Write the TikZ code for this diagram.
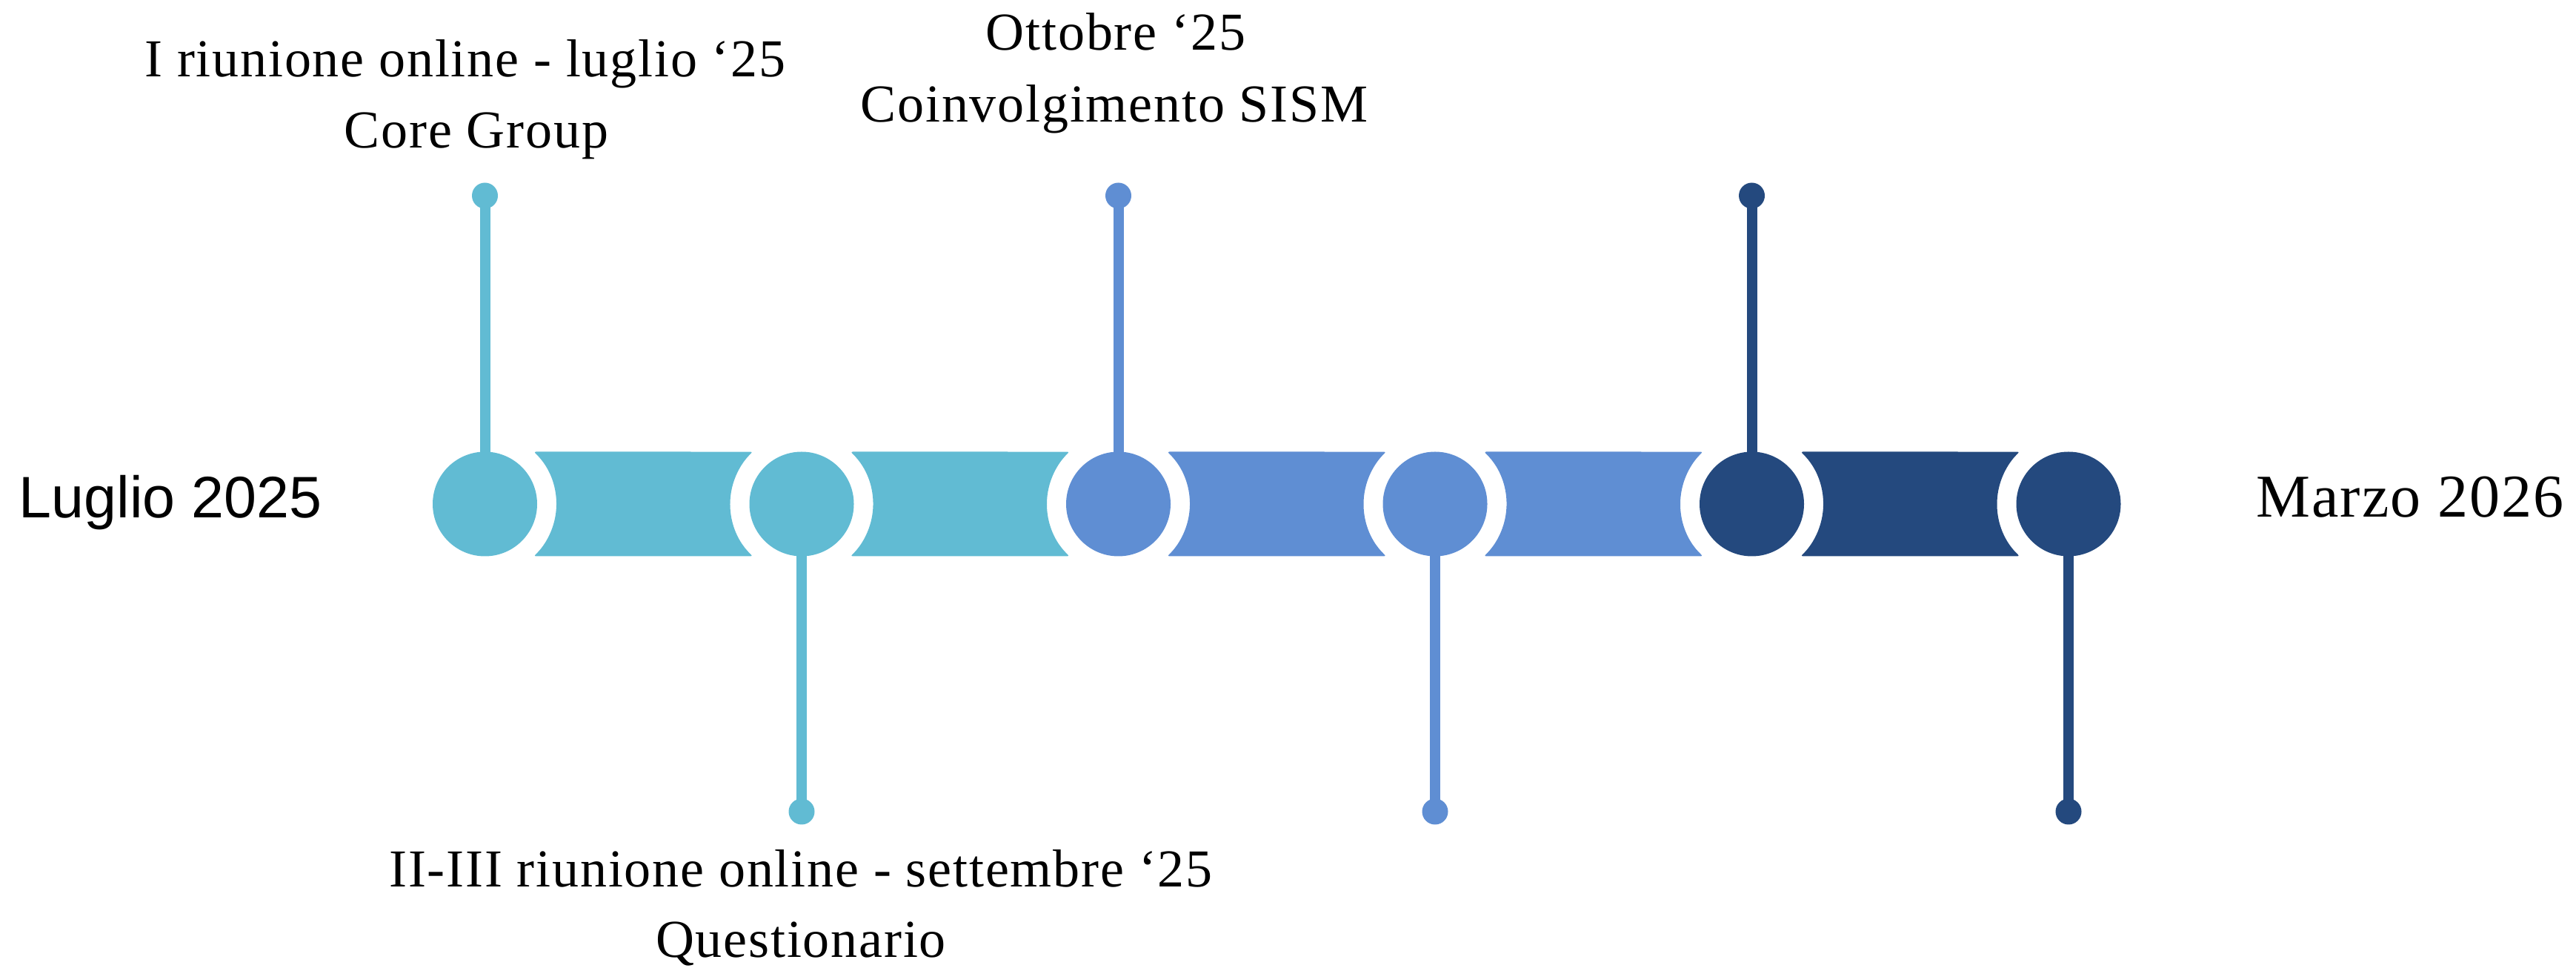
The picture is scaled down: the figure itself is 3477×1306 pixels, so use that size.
\documentclass[tikz,border=0pt]{standalone}
\usepackage{fontspec}
\setmainfont{Liberation Serif}[LetterSpace=2.5]
\newfontfamily\arialfont{Liberation Sans}
\usetikzlibrary{backgrounds}
\definecolor{cteal}{RGB}{97,187,211}
\definecolor{cmid}{RGB}{95,142,211}
\definecolor{cnavy}{RGB}{36,73,126}
\begin{document}
\begin{tikzpicture}[x=1pt,y=1pt,
  bigdot/.style={circle,minimum size=141pt,inner sep=0pt,fill=#1},
  smalldot/.style={circle,minimum size=35pt,inner sep=0pt,fill=#1},
  stem/.style={draw=#1,line width=14pt},
  lbl/.style={anchor=base,inner sep=0pt,font=\fontsize{72}{86}\selectfont},
  segm/.style={fill=#1,rounded corners=3pt}
]
\useasboundingbox (0,0) rectangle (3477,1306);
% segments
\foreach \a/\b/\col in {654.5/1082/cteal,1082/1509.5/cteal,1509.5/1937/cmid,1937/2364.5/cmid,2364.5/2792/cnavy}{
  \fill[segm=\col] (\a+65.9,696.5) arc[start angle=46.93,end angle=-46.93,radius=96.5]
     -- (\b-65.9,555.5) arc[start angle=226.93,end angle=133.07,radius=96.5] -- cycle;
}
% milestone circles
\node[bigdot=cteal] (c1) at (654.5,626) {};
\node[bigdot=cteal] (c2) at (1082,626) {};
\node[bigdot=cmid] (c3) at (1509.5,626) {};
\node[bigdot=cmid] (c4) at (1937,626) {};
\node[bigdot=cnavy] (c5) at (2364.5,626) {};
\node[bigdot=cnavy] (c6) at (2792,626) {};
% small dots
\node[smalldot=cteal] (d1) at (654.5,1042) {};
\node[smalldot=cteal] (d2) at (1082,211) {};
\node[smalldot=cmid] (d3) at (1509.5,1042) {};
\node[smalldot=cmid] (d4) at (1937,211) {};
\node[smalldot=cnavy] (d5) at (2364.5,1042) {};
\node[smalldot=cnavy] (d6) at (2792,211) {};
% stems
\begin{scope}[on background layer]
\draw[stem=cteal] (d1.center) -- (c1.center);
\draw[stem=cteal] (d2.center) -- (c2.center);
\draw[stem=cmid] (d3.center) -- (c3.center);
\draw[stem=cmid] (d4.center) -- (c4.center);
\draw[stem=cnavy] (d5.center) -- (c5.center);
\draw[stem=cnavy] (d6.center) -- (c6.center);
\end{scope}
% labels
\node[lbl] (t1a) at (628,1202) {I riunione online - luglio ‘25};
\node[lbl] (t1b) at (643,1106) {Core Group};
\node[lbl] (t2a) at (1506,1238) {Ottobre ‘25};
\node[lbl] (t2b) at (1504,1141) {Coinvolgimento SISM};
\node[lbl] (t3a) at (1081,109) {II-III riunione online - settembre ‘25};
\node[lbl] (t3b) at (1081,14) {Questionario};
\node[anchor=base,inner sep=0pt,font=\arialfont\fontsize{79}{92}\selectfont] (start) at (230,607) {Luglio 2025};
\node[anchor=base,inner sep=0pt,font=\fontsize{82}{98}\selectfont] (end) at (3253,608) {Marzo 2026};
\end{tikzpicture}
\end{document}
